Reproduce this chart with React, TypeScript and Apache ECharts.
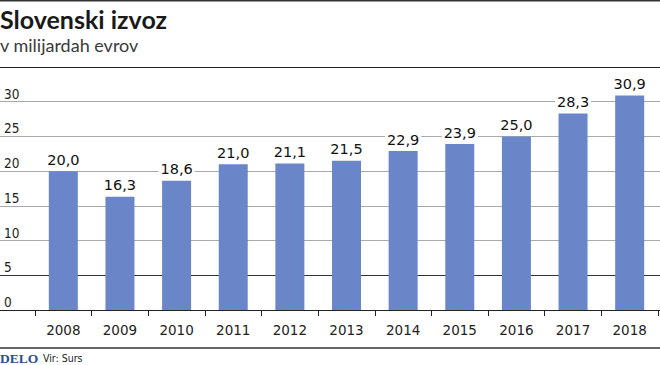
import React, { useEffect, useRef } from "react";
import * as echarts from "echarts";

const years = ["2008", "2009", "2010", "2011", "2012", "2013", "2014", "2015", "2016", "2017", "2018"];
const exportsBn = [20.0, 16.3, 18.6, 21.0, 21.1, 21.5, 22.9, 23.9, 25.0, 28.3, 30.9];
const yMin = 0;
const yMax = 35;
const yStep = 5;

const title = "Slovenski izvoz";
const subtitle = "v milijardah evrov";
const sourceText = "Vir: Surs";
const brand = "DELO";

export default function App() {
  const ref = useRef<HTMLDivElement>(null);
  useEffect(() => {
    if (!ref.current) return;
    const chart = echarts.init(ref.current, undefined, { renderer: "svg" });
    const narrow = "'Liberation Sans Narrow', 'DejaVu Sans Condensed', sans-serif";
    const lineColors = ["#222", "#333", "#aaa", "#aaa", "#aaa", "#aaa", "#aaa", "#222"];
    chart.setOption({
      animation: false,
      backgroundColor: "#fff",
      grid: [
        { left: 0, right: 0, top: 67, bottom: 55 },
        { left: 35, right: 2, top: 67, bottom: 55 },
      ],
      xAxis: [
        { type: "value", gridIndex: 0, min: 0, max: 1, show: false },
        {
          type: "category",
          gridIndex: 1,
          data: years,
          axisLine: { show: false },
          axisTick: { show: true, length: 6, alignWithLabel: false, lineStyle: { color: "#222", width: 1 } },
          axisLabel: { margin: 13, color: "#222", fontSize: 13.5, fontFamily: "'DejaVu Sans', sans-serif", interval: 0 },
        },
      ],
      yAxis: [
        {
          type: "value",
          gridIndex: 0,
          min: yMin,
          max: yMax,
          interval: yStep,
          axisLine: { show: false },
          axisTick: { show: false },
          axisLabel: {
            inside: true,
            margin: 4,
            verticalAlign: "bottom",
            padding: [0, 0, 1, 0],
            color: "#222",
            fontSize: 13.5,
            fontFamily: narrow,
            showMaxLabel: false,
            formatter: (v: number) => (v >= yMax ? "" : String(v)),
          },
          splitLine: { show: true, lineStyle: { color: lineColors, width: 1 } },
        },
        { type: "value", gridIndex: 1, min: yMin, max: yMax, show: false },
      ],
      series: [
        {
          type: "bar",
          xAxisIndex: 1,
          yAxisIndex: 1,
          data: exportsBn,
          barWidth: 29,
          itemStyle: { color: "#6a86c9" },
          label: {
            show: true,
            position: "top",
            distance: 4,
            color: "#111",
            fontSize: 14.5,
            fontFamily: "'DejaVu Sans', sans-serif",
            backgroundColor: "#fff",
            padding: [0, 2, 0, 2],
            formatter: (p: any) => Number(p.value).toFixed(1).replace(".", ","),
          },
        },
      ],
      graphic: [
        { type: "line", shape: { x1: 0, y1: 0.75, x2: 660, y2: 0.75 }, style: { stroke: "#333", lineWidth: 1.5 } },
        {
          type: "text",
          left: 0,
          top: 6,
          style: { text: title, fontFamily: "Lato, sans-serif", fontWeight: "bold", fontSize: 25, fill: "#1a1a1a" },
        },
        {
          type: "text",
          left: 0,
          top: 36,
          style: { text: subtitle, fontFamily: "Lato, sans-serif", fontSize: 18, fill: "#3a3a3a" },
        },
        { type: "line", shape: { x1: 0, y1: 348, x2: 660, y2: 348 }, style: { stroke: "#333", lineWidth: 1.5 } },
        {
          type: "text",
          left: 0,
          top: 351,
          style: { text: brand, fontFamily: "'Liberation Serif', serif", fontWeight: "bold", fontSize: 13.5, fill: "#2b4f91" },
        },
        {
          type: "text",
          left: 43,
          top: 352,
          style: { text: sourceText, fontFamily: narrow, fontSize: 10.5, fill: "#222" },
        },
      ],
    });
    return () => chart.dispose();
  }, []);
  return <div ref={ref} style={{ width: 660, height: 365, position: "absolute", left: 0, top: 0 }} />;
}
